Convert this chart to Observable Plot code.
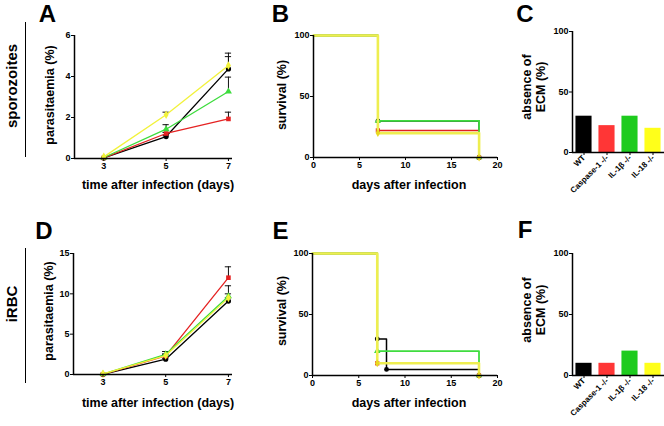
<!DOCTYPE html>
<html>
<head>
<meta charset="utf-8">
<script src="https://cdn.jsdelivr.net/npm/d3@7"></script>
<script src="https://cdn.jsdelivr.net/npm/@observablehq/plot@0.6"></script>
<style>
  body { margin: 0; background: #fff; }
  #fig { position: relative; width: 664px; height: 426px; overflow: hidden; background: #fff;
         font-family: "Liberation Sans", Arial, sans-serif; font-weight: bold; color: #000; }
  .t { position: absolute; white-space: nowrap; line-height: 1; }
</style>
</head>
<body>
<div id="fig"></div>
<script>
// ---------- data ----------
const groups = ["WT", "Caspase-1 -/-", "IL-1β -/-", "IL-18 -/-"];
const lineColors = ["#000000", "#e52222", "#3ddc3d", "#f2f23a"];
const barColors = ["#000000", "#ff3636", "#1ecb1e", "#ffff1a"];
const symbols = ["circle", "square", "triangle", "diamond"];
const days = [3, 5, 7];

// parasitaemia (%) per group, days 3/5/7, and SEM
const parasA = [[0.03, 1.07, 4.37], [0.03, 1.22, 1.93], [0.05, 1.43, 3.27], [0.08, 2.13, 4.54]];
const semA   = [[0, 0.04, 0.6], [0, 0.05, 0.33], [0, 0.22, 0.7], [0, 0.13, 0.6]];
const parasD = [[0.03, 1.9, 9.1], [0.03, 2.3, 12.0], [0.05, 2.5, 9.7], [0.08, 2.35, 9.5]];
const semD   = [[0, 0.1, 0.4], [0, 0.2, 1.35], [0, 0.35, 1.3], [0, 0.2, 0.5]];

// survival (%) step curves
const survTimesB = [[0, 7, 18], [0, 7, 18], [0, 7, 18], [0, 7, 18]];
const survB      = [[100, 30, 0], [100, 22.2, 0], [100, 30, 0], [100, 20, 0]];
const survTimesE = [[0, 7, 8, 18], [0, 7, 18], [0, 7, 18], [0, 7, 18]];
const survE      = [[100, 30, 5, 0], [100, 10, 0], [100, 20, 0], [100, 10, 0]];

// absence of ECM (%)
const ecmC = [30, 22.2, 30, 20];
const ecmF = [10, 10, 20, 10];

const ticksA = [0, 2, 4, 6];
const ticksD = [0, 5, 10, 15];
const ticksPct = [0, 50, 100];
const ticksSurvX = [0, 5, 10, 15, 20];

// ---------- helpers ----------
const fig = document.getElementById("fig");
const fmt = d => String(d);

function panel({left, right, top, bottom, x, y, marks, mB = 40}) {
  const mL = 40, mR = 4, mT = 6;
  const w = right - left + mL + mR, h = bottom - top + mT + mB;
  const svg = Plot.plot({
    width: w, height: h,
    marginLeft: mL, marginRight: mR, marginTop: mT, marginBottom: mB,
    x, y,
    style: {fontFamily: '"Liberation Sans", Arial, sans-serif', fontSize: "9px", fontWeight: "bold",
            color: "#000", background: "transparent", overflow: "visible"},
    marks
  });
  svg.style.position = "absolute";
  svg.style.left = (left - mL) + "px";
  svg.style.top = (top - mT) + "px";
  fig.appendChild(svg);
}

function label(txt, cx, cy, size, rotate = 0) {
  const d = document.createElement("div");
  d.className = "t";
  d.textContent = txt;
  d.style.fontSize = size + "px";
  d.style.left = cx + "px";
  d.style.top = cy + "px";
  d.style.transform = `translate(-50%,-50%) rotate(${rotate}deg)`;
  fig.appendChild(d);
}

function vline(x, y1, y2) {
  const d = document.createElement("div");
  d.style.cssText = `position:absolute;left:${x}px;top:${y1}px;width:1.2px;height:${y2 - y1}px;background:#000;`;
  fig.appendChild(d);
}

function parasMarks(means, sems, xDomain, yTicks) {
  const marks = [];
  means.forEach((m, g) => {
    const data = days.map((d, i) => ({day: d, m: m[i], s: sems[g][i]}));
    const err = data.filter(d => d.s > 0);
    marks.push(
      Plot.ruleX(err, {x: "day", y1: "m", y2: d => d.m + d.s, stroke: "#111", strokeWidth: 1}),
      Plot.ruleY(err, {y: d => d.m + d.s, x1: d => d.day - 0.1, x2: d => d.day + 0.1, stroke: "#111", strokeWidth: 1})
    );
  });
  means.forEach((m, g) => {
    const data = days.map((d, i) => ({day: d, m: m[i]}));
    marks.push(
      Plot.line(data, {x: "day", y: "m", stroke: lineColors[g], strokeWidth: 1.3}),
      Plot.dot(data, {x: "day", y: "m", fill: lineColors[g], stroke: "none", symbol: symbols[g], r: 2.6})
    );
  });
  marks.push(
    Plot.ruleX([xDomain[0]], {strokeWidth: 1.5}),
    Plot.ruleY([0], {strokeWidth: 1.5}),
    Plot.axisY({ticks: yTicks, tickFormat: fmt, tickSize: 3, tickPadding: 1, label: null}),
    Plot.axisX({ticks: days, tickFormat: fmt, tickSize: 3, tickPadding: 1, label: null})
  );
  return marks;
}

function survMarks(times, vals) {
  const widths = [1.5, 1.5, 1.8, 2.6];
  const cols = ["#000000", "#e02020", "#3fdc3f", "#eeee50"];
  const marks = [];
  times.forEach((t, g) => {
    const data = t.map((tt, i) => ({t: tt, s: vals[g][i]}));
    marks.push(
      Plot.line(data, {x: "t", y: "s", curve: "step-after", stroke: cols[g], strokeWidth: widths[g]}),
      Plot.dot(data.slice(1), {x: "t", y: "s", fill: g === 3 ? "#e8d820" : cols[g], stroke: "none", symbol: symbols[g], r: 2.4})
    );
  });
  marks.push(
    Plot.ruleX([0], {strokeWidth: 1.5}),
    Plot.ruleY([0], {strokeWidth: 1.5}),
    Plot.axisY({ticks: ticksPct, tickFormat: fmt, tickSize: 3, tickPadding: 1, label: null}),
    Plot.axisX({ticks: ticksSurvX, tickFormat: fmt, tickSize: 3, tickPadding: 1, label: null})
  );
  return marks;
}

function barMarks(vals) {
  const data = groups.map((g, i) => ({i, v: vals[i], c: barColors[i]}));
  return [
    Plot.rectY(data, {x1: d => d.i - 0.35, x2: d => d.i + 0.35, y: "v", fill: "c"}),
    Plot.ruleX([-0.5], {strokeWidth: 1.5}),
    Plot.ruleY([0], {strokeWidth: 1.5}),
    Plot.axisY({ticks: ticksPct, tickFormat: fmt, tickSize: 3, tickPadding: 1, label: null}),
    Plot.axisX({ticks: groups.map((g, i) => i), tickFormat: i => groups[i], tickRotate: -45,
                tickSize: 3, tickPadding: 1, fontSize: 8, label: null})
  ];
}

// ---------- panels ----------
const xParas = [2.06, 7.13];

// A
panel({left: 74, right: 232, top: 35, bottom: 158,
  x: {domain: xParas}, y: {domain: [0, 6]},
  marks: parasMarks(parasA, semA, xParas, ticksA)});
// D
panel({left: 73, right: 232, top: 253, bottom: 374,
  x: {domain: xParas}, y: {domain: [0, 15]},
  marks: parasMarks(parasD, semD, xParas, ticksD)});
// B
panel({left: 313, right: 497, top: 35, bottom: 157,
  x: {domain: [0, 20]}, y: {domain: [0, 100]},
  marks: survMarks(survTimesB, survB)});
// E
panel({left: 312, right: 497, top: 253, bottom: 375,
  x: {domain: [0, 20]}, y: {domain: [0, 100]},
  marks: survMarks(survTimesE, survE)});
// C
panel({left: 572, right: 664, top: 31, bottom: 152, mB: 60,
  x: {domain: [-0.5, 3.5]}, y: {domain: [0, 100]},
  marks: barMarks(ecmC)});
// F
panel({left: 572, right: 664, top: 253, bottom: 375, mB: 60,
  x: {domain: [-0.5, 3.5]}, y: {domain: [0, 100]},
  marks: barMarks(ecmF)});

// ---------- text ----------
label("A", 47.5, 14, 24);
label("B", 280.5, 14, 24);
label("C", 525, 14, 24);
label("D", 44, 231, 24);
label("E", 280.5, 231, 24);
label("F", 525, 229.5, 24);

label("sporozoites", 11, 86, 15, -90);
vline(25, 22, 157);
label("iRBC", 11, 304, 15, -90);
vline(25, 248, 383);

label("parasitaemia (%)", 50, 95, 12.5, -90);
label("time after infection (days)", 158, 185, 12.5);
label("survival (%)", 282, 95, 12.5, -90);
label("days after infection", 409, 185, 12.5);
label("absence of", 527, 87, 12.5, -90);
label("ECM (%)", 541, 87, 12.5, -90);

label("parasitaemia (%)", 49, 311, 12.5, -90);
label("time after infection (days)", 158, 403, 12.5);
label("survival (%)", 282, 311, 12.5, -90);
label("days after infection", 409, 403, 12.5);
label("absence of", 527, 310, 12.5, -90);
label("ECM (%)", 541, 310, 12.5, -90);
</script>
</body>
</html>
